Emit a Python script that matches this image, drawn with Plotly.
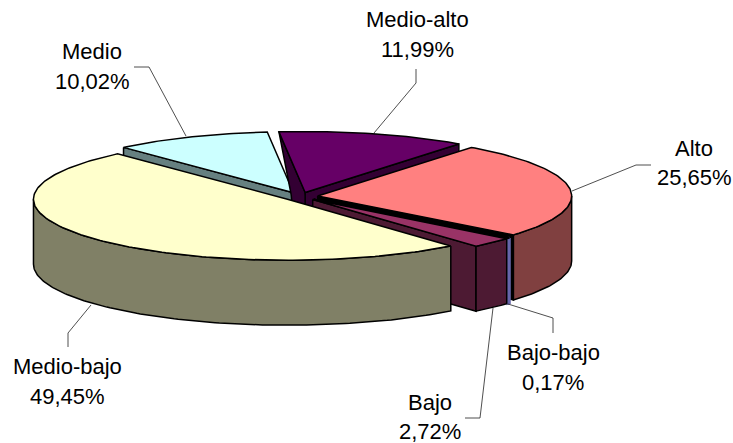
import numpy as np
import plotly.graph_objects as go

categories = ["Medio", "Medio-alto", "Alto", "Bajo-bajo", "Bajo", "Medio-bajo"]
values = [10.02, 11.99, 25.65, 0.17, 2.72, 49.45]
value_labels = ["10,02%", "11,99%", "25,65%", "0,17%", "2,72%", "49,45%"]
top_colors = ["#CCFFFF", "#660066", "#FF8080", "#9999FF", "#993366", "#FFFFCC"]
side_colors = ["#668080", "#330033", "#804040", "#6666AA", "#4D1A33", "#808066"]
end_face_colors = ["#668080", "#330033", "#000000", "#000000", "#4D1A33", "#808066"]

# Geometry of the projected pie (pixels of the 733x443 page)
CX, CY, RX, RY = 300.5, 196.5, 254.0, 61.0
DEPTH, EXPLODE = 65.0, 0.068
START = -42.0  # degrees clockwise from top, where "Medio" begins
LINE = dict(color="black", width=1.5)


def pt(theta, ox, oy, drop=0.0):
    t = np.radians(theta)
    return ox + RX * np.sin(t), oy - RY * np.cos(t) + drop


def arc(a, b, ox, oy, drop=0.0):
    n = max(2, int(abs(b - a)) + 2)
    return pt(np.linspace(a, b, n), ox, oy, drop)


def poly(fig, xs, ys, color, line=LINE):
    xs, ys = list(xs), list(ys)
    fig.add_trace(go.Scatter(x=xs + xs[:1], y=ys + ys[:1], mode="lines", fill="toself",
                             fillcolor=color, line=line, hoverinfo="skip", showlegend=False))


fig = go.Figure()
angle = START
for name, val, top, side, endc in zip(categories, values, top_colors, side_colors, end_face_colors):
    a, b = angle, angle + val * 3.6
    angle = b
    mid = np.radians((a + b) / 2)
    ox = CX + EXPLODE * RX * np.sin(mid)
    oy = CY - EXPLODE * RY * np.cos(mid)

    # radial face at the start of the slice, when it faces the viewer
    if np.cos(np.radians(a - 90)) < 0:
        cx0, cy0 = pt(a, ox, oy)
        if abs(a - START) < 1e-9:
            poly(fig, [cx0, ox, ox, cx0], [cy0, oy, oy + DEPTH, cy0 + DEPTH], side)
        else:
            # the wall behind the previous slice only shows as a sliver
            poly(fig, [cx0, ox, ox + 2, ox - 13, ox - 14],
                 [cy0, oy, oy + 13, oy + 13, oy + 2], side)
    # radial face at the end of the slice
    if np.cos(np.radians(b + 90)) < 0:
        cx1, cy1 = pt(b, ox, oy)
        poly(fig, [ox, cx1, cx1, ox], [oy, cy1, cy1 + DEPTH, oy + DEPTH], endc)

    # outer wall, only its front part
    lo, hi = max(a, 90.0), min(b, 270.0)
    if lo < hi:
        ux, uy = arc(lo, hi, ox, oy)
        dx, dy = arc(hi, lo, ox, oy, DEPTH)
        wall_line = dict(color=side, width=2.5) if val < 1 else LINE
        poly(fig, np.r_[ux, dx], np.r_[uy, dy], side, wall_line)

    # top face
    ux, uy = arc(a, b, ox, oy)
    poly(fig, np.r_[ox, ux], np.r_[oy, uy], top)

# leader lines
leaders = [
    ([134, 149, 186], [67, 67, 136]),
    ([416, 416, 374], [69, 83, 133]),
    ([651, 636, 572], [165, 165, 191]),
    ([553, 553, 508], [333, 318, 304]),
    ([465, 480, 493], [418, 418, 308]),
    ([68, 68, 91], [347, 333, 305]),
]
for lx, ly in leaders:
    fig.add_trace(go.Scatter(x=lx, y=ly, mode="lines", line=dict(color="#222222", width=0.8),
                             hoverinfo="skip", showlegend=False))

label_pos = {
    "Medio": (92, 51, 81), "Medio-alto": (417, 19, 49), "Alto": (694, 148, 177),
    "Bajo-bajo": (553, 352, 382), "Bajo": (430, 402, 431), "Medio-bajo": (67, 366, 396),
}
for name, vl in zip(categories, value_labels):
    x, y1, y2 = label_pos[name]
    for txt, y in ((name, y1), (vl, y2)):
        fig.add_annotation(x=x, y=y, text=txt, showarrow=False, xanchor="center", yanchor="middle",
                           font=dict(family="Liberation Sans", size=22, color="black"))

fig.update_layout(
    width=733, height=443, margin=dict(l=0, r=0, t=0, b=0),
    paper_bgcolor="white", plot_bgcolor="white", showlegend=False,
    xaxis=dict(range=[0, 733], visible=False, fixedrange=True),
    yaxis=dict(range=[443, 0], visible=False, fixedrange=True),
)
fig.write_html("out.html", config=dict(displayModeBar=False),
               post_script="document.body.style.margin='0';document.body.style.overflow='hidden';")
